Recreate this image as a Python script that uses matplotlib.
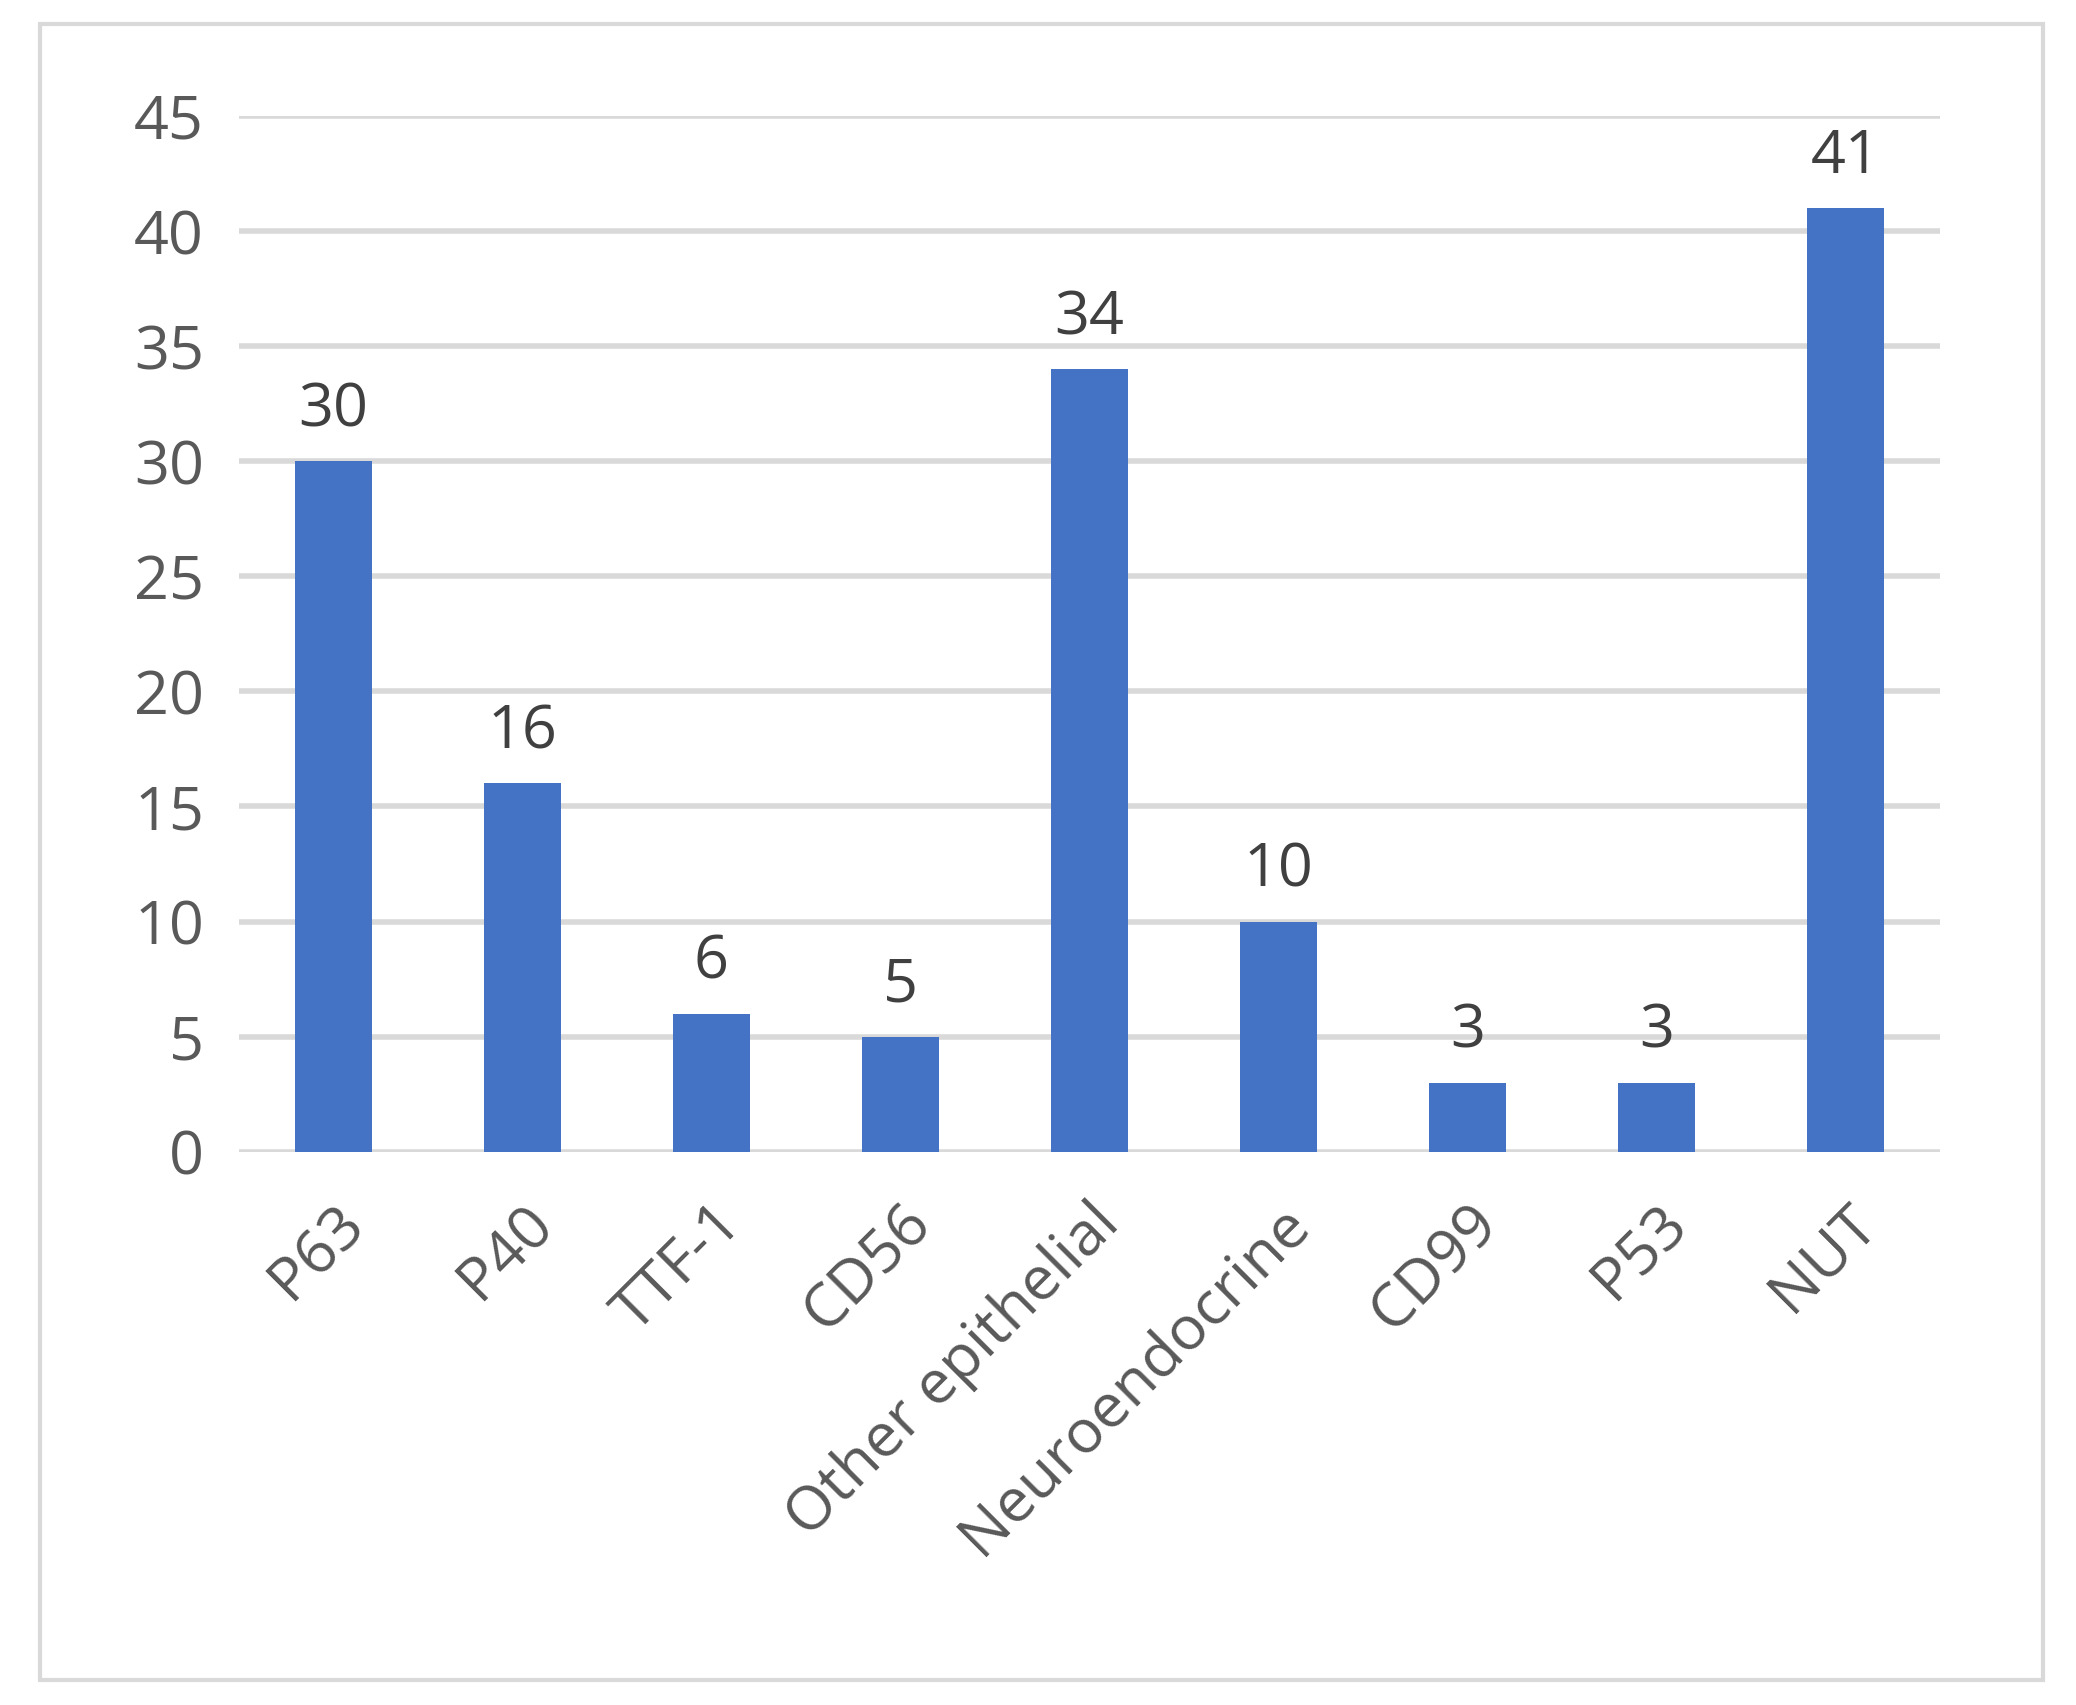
import matplotlib
matplotlib.use("Agg")
import matplotlib.pyplot as plt
from matplotlib.patches import Rectangle

categories = ["P63", "P40", "TTF-1", "CD56", "Other epithelial",
              "Neuroendocrine", "CD99", "P53", "NUT"]
counts = [30, 16, 6, 5, 34, 10, 3, 3, 41]
yticks = [0, 5, 10, 15, 20, 25, 30, 35, 40, 45]

plt.rcParams['font.family'] = ['Open Sans', 'DejaVu Sans']

fig = plt.figure(figsize=(20.76, 17.05), dpi=100)
fig.patches.append(Rectangle((30 / 1560, 1 - 1262 / 1281), 1505 / 1560, 1244 / 1281,
                             transform=fig.transFigure, fill=False,
                             edgecolor="#d9d9d9", linewidth=3))
ax = fig.add_axes([0.115, 0.3245, 0.8195, 0.6075])

x = range(len(categories))
bars = ax.bar(x, counts, width=0.41, color="#4472c4", zorder=3)
for b, v in zip(bars, counts):
    ax.text(b.get_x() + b.get_width() / 2, v + 0.9, str(v), ha="center",
            va="bottom", fontsize=44, color="#404040")

ax.set_ylim(0, 45)
ax.set_xlim(-0.5, len(categories) - 0.5)
ax.set_yticks(yticks)
ax.yaxis.grid(True, color="#d9d9d9", linewidth=4, zorder=0)
for s in ax.spines.values():
    s.set_visible(False)
ax.tick_params(length=0, labelsize=44, labelcolor="#595959")
ax.tick_params(axis="y", pad=25)
ax.set_xticks(list(x))
ax.set_xticklabels(categories, rotation=45, ha="right", rotation_mode="anchor")
ax.tick_params(axis="x", pad=30)

fig.savefig("out.png", dpi=100)
